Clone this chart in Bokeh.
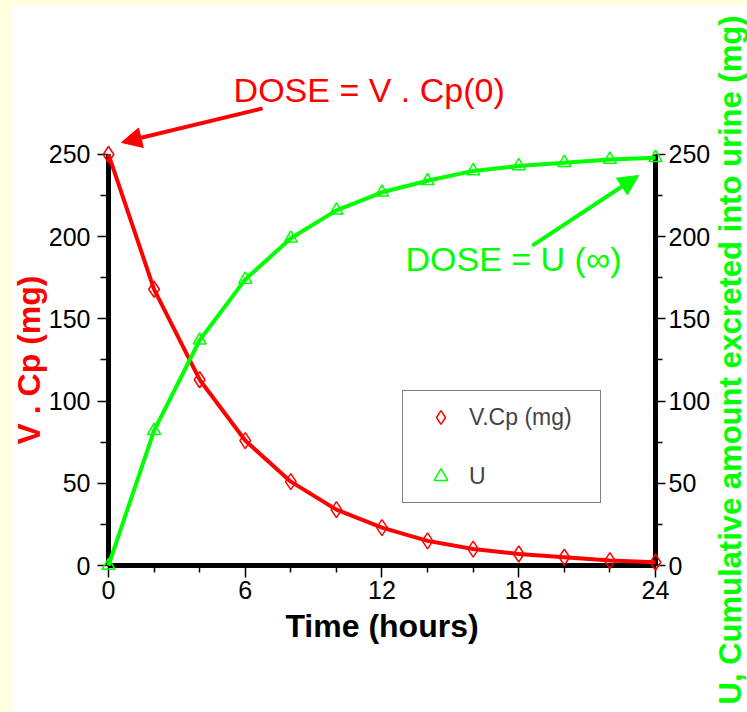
import math
from bokeh.plotting import figure
from bokeh.models import (Range1d, LinearAxis, FixedTicker, Arrow, NormalHead,
                          Legend, LegendItem)
from bokeh.core.properties import value
from bokeh.embed import file_html
from bokeh.resources import INLINE

# ---- data ----
time_h = [0, 2, 4, 6, 8, 10, 12, 14, 16, 18, 20, 22, 24]
v_cp = [250, 168, 113, 76, 51, 34, 23, 15, 10, 7, 5, 3, 2]
u_cum = [0, 82, 137, 174, 199, 216, 227, 234, 240, 243, 245, 247, 248]

x_major = [0, 6, 12, 18, 24]
x_minor = [2, 4, 8, 10, 14, 16, 20, 22]
y_major = [0, 50, 100, 150, 200, 250]
y_minor = [25, 75, 125, 175, 225]

x_title = "Time (hours)"
y_title_left = "V . Cp (mg)"
y_title_right = "U, Cumulative amount excreted into urine (mg)"
note_red = "DOSE = V . Cp(0)"
note_green = "DOSE = U (\u221e)"

RED = "#FF0000"
GREEN = "#00FF00"
FONT = "Liberation Sans"

# the frame fills the whole canvas; axes sit at fixed data locations
p = figure(width=736, height=707,
           x_range=Range1d(-4.256, 28.037), y_range=Range1d(-89.4, 340.6),
           output_backend="svg", toolbar_location=None,
           min_border_left=0, min_border_right=0,
           min_border_top=0, min_border_bottom=0,
           background_fill_color="white", border_fill_color="white",
           outline_line_color=None)
p.margin = (5, 0, 0, 11)
p.xgrid.grid_line_color = None
p.ygrid.grid_line_color = None


def style_axis(ax, tout, mout, standoff):
    ax.axis_line_color = "black"
    ax.axis_line_width = 5
    ax.major_tick_line_color = "black"
    ax.minor_tick_line_color = "black"
    ax.major_tick_line_width = 1.5
    ax.minor_tick_line_width = 1.5
    ax.major_tick_in = 0
    ax.major_tick_out = tout
    ax.minor_tick_in = 0
    ax.minor_tick_out = mout
    ax.major_label_text_font = FONT
    ax.major_label_text_font_size = "25px"
    ax.major_label_text_color = "black"
    ax.major_label_standoff = standoff
    ax.level = "underlay"


xax = p.xaxis[0]
xax.ticker = FixedTicker(ticks=x_major, minor_ticks=x_minor)
xax.fixed_location = y_major[0]
xax.bounds = (x_major[0], x_major[-1])
style_axis(xax, 12, 7, 3)

yax = p.yaxis[0]
yax.ticker = FixedTicker(ticks=y_major, minor_ticks=y_minor)
yax.fixed_location = x_major[0]
yax.bounds = (y_major[0], y_major[-1])
style_axis(yax, 11, 8, 7)

rax = LinearAxis(ticker=FixedTicker(ticks=y_major, minor_ticks=y_minor),
                 fixed_location=x_major[-1], bounds=(y_major[0], y_major[-1]))
style_axis(rax, 10, 7, 3)
p.add_layout(rax, "right")

# axis titles
p.text(x=[-3.51], y=[125], text=[y_title_left], angle=math.pi / 2,
       text_color=RED, text_font=value(FONT), text_font_style="bold",
       text_font_size="32px", text_align="center", text_baseline="middle")
p.text(x=[27.29], y=[125], text=[y_title_right], angle=math.pi / 2,
       text_color=GREEN, text_font=value(FONT), text_font_style="bold",
       text_font_size="31px", text_align="center", text_baseline="middle")
p.text(x=[12], y=[-36.5], text=[x_title],
       text_color="black", text_font=value(FONT), text_font_style="bold",
       text_font_size="32px", text_align="center", text_baseline="middle")

# curves and markers
p.line(time_h, v_cp, line_color=RED, line_width=4)
p.line(time_h, u_cum, line_color=GREEN, line_width=4)

r_cp = p.scatter(time_h, v_cp, marker="diamond", size=16,
                 line_color=RED, fill_color=None, line_width=1.5)
r_u = p.scatter(time_h, u_cum, marker="triangle", size=13,
                line_color=GREEN, fill_color=None, line_width=1.5)

# annotations
p.text(x=[5.49], y=[289.3], text=[note_red], text_color=RED,
       text_font=value(FONT), text_font_size="34px",
       text_align="left", text_baseline="alphabetic")
p.text(x=[13.03], y=[186.7], text=[note_green], text_color=GREEN,
       text_font=value(FONT), text_font_size="34px",
       text_align="left", text_baseline="alphabetic")

p.add_layout(Arrow(x_start=6.76, y_start=278, x_end=0.57, y_end=257.3,
                   line_color=RED, line_width=4,
                   end=NormalHead(size=20, fill_color=RED, line_color=RED)))
p.add_layout(Arrow(x_start=18.6, y_start=194.6, x_end=23.26, y_end=237.2,
                   line_color=GREEN, line_width=4,
                   end=NormalHead(size=20, fill_color=GREEN, line_color=GREEN)))

legend = Legend(items=[LegendItem(label="V.Cp (mg)", renderers=[r_cp]),
                       LegendItem(label="U", renderers=[r_u])],
                location=(391, 209), margin=0, padding=9, spacing=25,
                glyph_width=57, glyph_height=34, label_standoff=0,
                label_width=122, label_height=20,
                label_text_font=FONT, label_text_font_size="23px",
                border_line_color="black", border_line_width=1.5,
                background_fill_color="white", background_fill_alpha=1.0)
p.add_layout(legend)

html = file_html(p, INLINE)
html = html.replace("</head>",
                    "<style>html,body{background-color:#FFFFDD;margin:0;}</style></head>", 1)
open("out.html", "w").write(html)
